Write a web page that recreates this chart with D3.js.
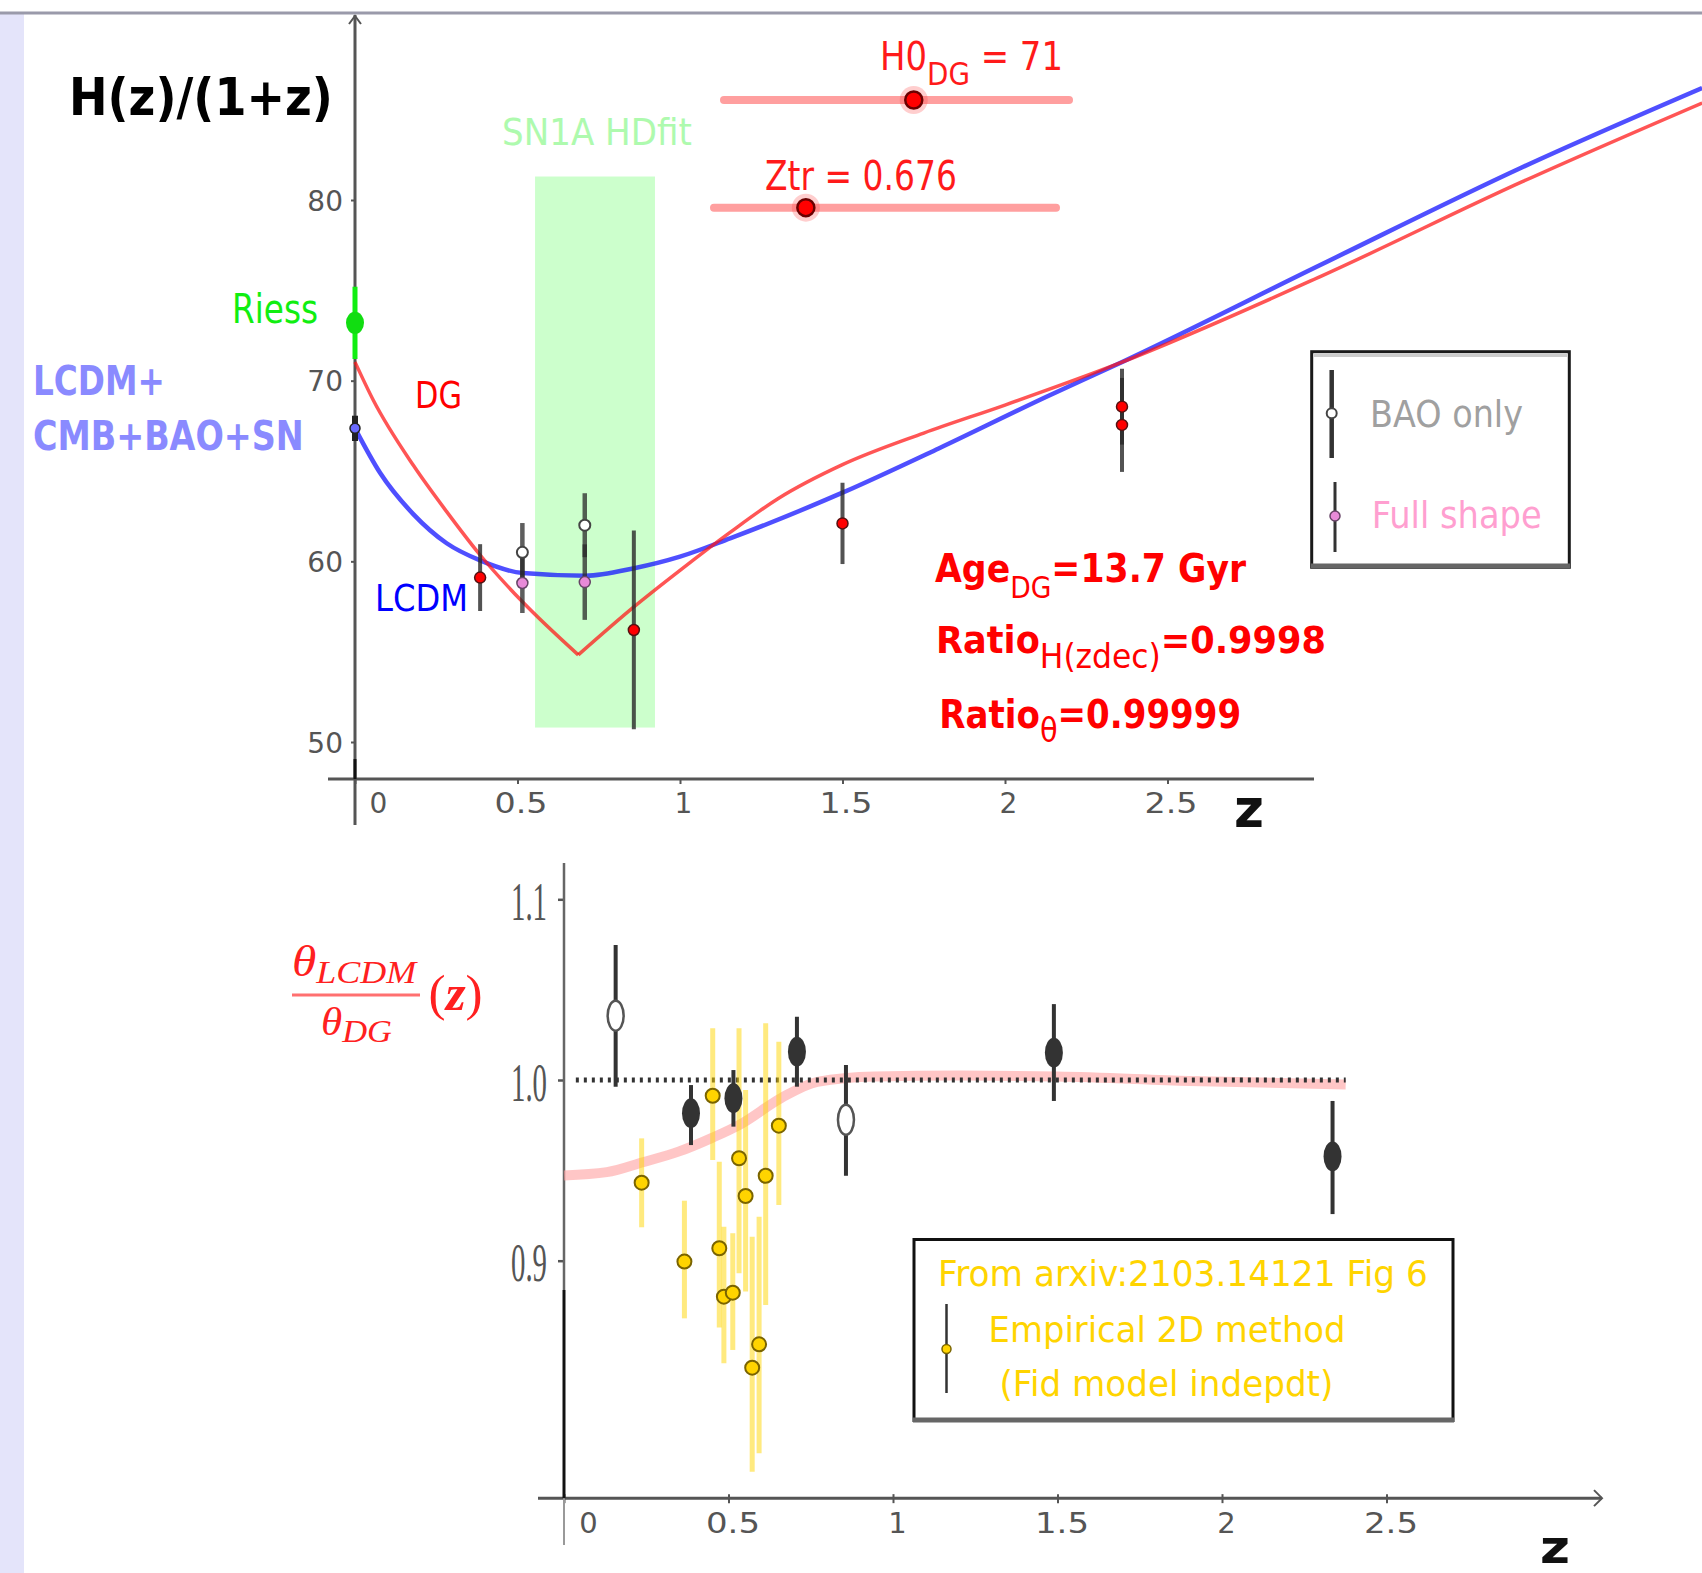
<!DOCTYPE html>
<html><head><meta charset="utf-8">
<script src="https://cdn.jsdelivr.net/npm/d3@7"></script>
<style>html,body{margin:0;padding:0;background:#fff;} svg{display:block;}</style>
</head><body>
<svg id="c" width="1702" height="1573"></svg>
<script>
// ---------------- DATA ----------------
// Top panel: H(z)/(1+z) model curves
const lcdmZ = [0, 0.077, 0.18, 0.282, 0.385, 0.516, 0.71, 0.859, 1.0, 1.154, 1.5, 1.796, 2.126, 2.354, 2.97, 3.59, 4.145];
const lcdmH = [67.36, 64.9, 62.6, 61.0, 60.05, 59.35, 59.2, 59.62, 60.26, 61.27, 63.8, 66.25, 69.1, 70.98, 76.4, 81.8, 86.2];
const dgZLeft = [0, 0.056, 0.18, 0.282, 0.385, 0.513, 0.687];
const dgHLeft = [71.03, 68.93, 65.3, 62.75, 60.35, 57.8, 54.82];
const dgZRight = [0.687, 0.859, 1.0, 1.154, 1.3, 1.5, 1.75, 2.0, 2.354, 2.97, 3.59, 4.145];
const dgHRight = [54.82, 57.49, 59.5, 61.6, 63.45, 65.35, 67.1, 68.65, 70.98, 75.76, 81.0, 85.37];
// Top panel: measurements
const redZ = [0.385, 0.858, 1.5, 2.36, 2.36];
const redH = [59.1, 56.2, 62.1, 68.56, 67.55];
const redErr = [1.85, 5.5, 2.25, 2.1, 2.6];
const baoOnlyZ = [0.515, 0.707];
const baoOnlyH = [60.5, 62.0];
const baoOnlyErr = [1.62, 1.77];
const fullShapeZ = [0.515, 0.707];
const fullShapeH = [58.8, 58.85];
const fullShapeErr = [1.66, 2.09];
const lcdmH0 = [67.36], lcdmH0Err = [0.7];
const riessH0 = [73.2], riessErr = [2.0];
const snBandZ = [0.554, 0.923];
const snBandH = [50.8, 81.3];
const topXTicks = [0, 0.5, 1, 1.5, 2, 2.5];
const topXLabels = ["0", "0.5", "1", "1.5", "2", "2.5"];
const topYTicks = [50, 60, 70, 80];
const topYLabels = ["50", "60", "70", "80"];
// sliders
const h0Slider = [60, 80], h0Value = 71;
const ztrSlider = [0.3, 1.7], ztrValue = 0.676;

// Bottom panel: theta ratio
const ratioZ = [0, 0.13, 0.24, 0.35, 0.45, 0.536, 0.66, 0.77, 0.945, 1.2, 1.5, 1.9, 2.376];
const ratioV = [0.9472, 0.9490, 0.9545, 0.9605, 0.9680, 0.9755, 0.9900, 0.9990, 1.0020, 1.0025, 1.0020, 0.9995, 0.9975];
const unityZ = [0.036, 2.376];
const unityV = [1.0, 1.0];
const baoOpenZ = [0.157, 0.857];
const baoOpenV = [1.0356, 0.978];
const baoOpenLo = [0.9963, 0.947];
const baoOpenHi = [1.0747, 1.0083];
const baoFillZ = [0.386, 0.515, 0.708, 1.489, 2.336];
const baoFillV = [0.9816, 0.9899, 1.0157, 1.0151, 0.9577];
const baoFillLo = [0.964, 0.9742, 0.9963, 0.9884, 0.9258];
const baoFillHi = [0.9972, 1.0055, 1.035, 1.042, 0.9884];
const empZ = [0.236, 0.366, 0.452, 0.472, 0.486, 0.513, 0.532, 0.552, 0.593, 0.572, 0.613, 0.653];
const empV = [0.9432, 0.8995, 0.9913, 0.9069, 0.8801, 0.8823, 0.9567, 0.9358, 0.8537, 0.8408, 0.9470, 0.9747];
const empLo = [0.9185, 0.8681, 0.9557, 0.8630, 0.8432, 0.8506, 0.8930, 0.8829, 0.7934, 0.7832, 0.8755, 0.9308];
const empHi = [0.9677, 0.9332, 1.0286, 0.9548, 0.9188, 0.9152, 1.0286, 0.9945, 0.9243, 0.9133, 1.0314, 1.0212];
const botXTicks = [0, 0.5, 1, 1.5, 2, 2.5];
const botXLabels = ["0", "0.5", "1", "1.5", "2", "2.5"];
const botYTicks = [0.9, 1.0, 1.1];
const botYLabels = ["0.9", "1.0", "1.1"];

// ---------------- SETUP ----------------
const svg = d3.select('#c');
const SANS = 'DejaVu Sans';
const SERIF = 'Liberation Serif';

function fitText(parent, o) {
  const g = parent.append('g');
  const t = g.append('text')
    .attr('font-family', o.family || SANS)
    .attr('font-size', o.size)
    .attr('font-weight', o.weight || 'normal')
    .attr('font-style', o.style || 'normal')
    .attr('fill', o.fill);
  let shift = 0;
  (o.parts || [{t: o.text}]).forEach(p => {
    const ts = t.append('tspan').text(p.t);
    const target = p.sub ? o.subDy : 0;
    if (target !== shift) { ts.attr('dy', target - shift); shift = target; }
    if (p.size) ts.attr('font-size', p.size);
    if (p.weight) ts.attr('font-weight', p.weight);
    if (p.style) ts.attr('font-style', p.style);
  });
  const bb = t.node().getBBox();
  const sx = o.w ? o.w / bb.width : 1;
  let x0 = o.x - bb.x * sx;
  if (o.anchor === 'end') x0 = o.x - (bb.x + bb.width) * sx;
  if (o.anchor === 'middle') x0 = o.x - (bb.x + bb.width / 2) * sx;
  g.attr('transform', `translate(${x0},${o.y}) scale(${sx},1)`);
  return g;
}
function vbar(g, x, y1, y2, color, w) {
  g.append('line').attr('x1', x).attr('x2', x).attr('y1', y1).attr('y2', y2).attr('stroke', color).attr('stroke-width', w);
}

// background frame
svg.append('rect').attr('x', 0).attr('y', 0).attr('width', 1702).attr('height', 1573).attr('fill', '#fff');
svg.append('rect').attr('x', 0).attr('y', 14).attr('width', 24).attr('height', 1559).attr('fill', '#e4e4fa');
svg.append('line').attr('x1', 0).attr('x2', 1702).attr('y1', 13).attr('y2', 13).attr('stroke', '#9a9aaa').attr('stroke-width', 3);

// ---------------- TOP PANEL ----------------
const topX = d3.scaleLinear().domain([0, 2.5]).range([355, 1167.5]);
const topY = d3.scaleLinear().domain([50, 80]).range([742, 200]);
const gTop = svg.append('g');

// SN band
gTop.append('rect')
  .attr('x', topX(snBandZ[0])).attr('width', topX(snBandZ[1]) - topX(snBandZ[0]))
  .attr('y', topY(snBandH[1])).attr('height', topY(snBandH[0]) - topY(snBandH[1]))
  .attr('fill', '#ccffcc');

// axes
const xAxisY = topY(47.95);
const yAxisTop = d3.axisLeft(topY).tickValues(topYTicks).tickSize(4).tickFormat((d, i) => topYLabels[i]);
const gyT = gTop.append('g').attr('transform', `translate(${topX(0)},0)`).call(yAxisTop);
gyT.select('.domain').remove();
gyT.selectAll('line').attr('stroke', '#555').attr('stroke-width', 2);
gyT.selectAll('text').attr('font-family', SANS).attr('font-size', 28).attr('fill', '#555')
  .attr('x', -12).attr('dy', '0.36em');

const xAxisTop = d3.axisBottom(topX).tickValues(topXTicks).tickSize(5).tickFormat((d, i) => topXLabels[i]);
const gxT = gTop.append('g').attr('transform', `translate(0,${xAxisY})`).call(xAxisTop);
gxT.select('.domain').remove();
gxT.selectAll('line').attr('stroke', '#555').attr('stroke-width', 2);
gxT.selectAll('text').attr('font-family', SANS).attr('font-size', 28).attr('fill', '#555')
  .attr('y', 34).attr('dy', null)
  .attr('x', (d) => d === 0 ? 23 : 3)
  .each(function(d, i) { if (topXLabels[i].length > 1) d3.select(this).attr('textLength', 53).attr('lengthAdjust', 'spacingAndGlyphs'); });

gTop.append('line').attr('x1', 328).attr('x2', 1314).attr('y1', xAxisY).attr('y2', xAxisY).attr('stroke', '#555').attr('stroke-width', 3);
gTop.append('line').attr('x1', topX(0)).attr('x2', topX(0)).attr('y1', 15).attr('y2', 825).attr('stroke', '#555').attr('stroke-width', 3);
gTop.append('line').attr('x1', topX(0)).attr('x2', topX(0)).attr('y1', xAxisY - 20).attr('y2', xAxisY).attr('stroke', '#111').attr('stroke-width', 3);
gTop.append('path').attr('d', `M${topX(0)-6},24 L${topX(0)},16 L${topX(0)+6},24`).attr('fill', 'none').attr('stroke', '#555').attr('stroke-width', 2);

// curves
const lineTop = d3.line().x(d => topX(d[0])).y(d => topY(d[1])).curve(d3.curveMonotoneX);
gTop.append('path').datum(lcdmZ.map((z, i) => [z, lcdmH[i]]))
  .attr('d', lineTop).attr('fill', 'none').attr('stroke', 'rgba(20,20,255,0.75)').attr('stroke-width', 4.5);
gTop.append('path').datum(dgZLeft.map((z, i) => [z, dgHLeft[i]]))
  .attr('d', lineTop).attr('fill', 'none').attr('stroke', 'rgba(255,20,20,0.72)').attr('stroke-width', 3.5);
gTop.append('path').datum(dgZRight.map((z, i) => [z, dgHRight[i]]))
  .attr('d', lineTop).attr('fill', 'none').attr('stroke', 'rgba(255,20,20,0.72)').attr('stroke-width', 3.5);

// error bars
baoOnlyZ.forEach((z, i) => vbar(gTop, topX(z), topY(baoOnlyH[i] + baoOnlyErr[i]), topY(baoOnlyH[i] - baoOnlyErr[i]), 'rgba(40,40,40,0.75)', 4.5));
fullShapeZ.forEach((z, i) => vbar(gTop, topX(z), topY(fullShapeH[i] + fullShapeErr[i]), topY(fullShapeH[i] - fullShapeErr[i]), 'rgba(40,40,40,0.75)', 4.5));
redZ.forEach((z, i) => vbar(gTop, topX(z), topY(redH[i] + redErr[i]), topY(redH[i] - redErr[i]), 'rgba(40,40,40,0.8)', 4));
vbar(gTop, topX(0), topY(lcdmH0[0] + lcdmH0Err[0]), topY(lcdmH0[0] - lcdmH0Err[0]), '#222', 6);
// riess
vbar(gTop, topX(0), topY(riessH0[0] + riessErr[0]), topY(riessH0[0] - riessErr[0]), '#11ee11', 5);
gTop.append('ellipse').attr('cx', topX(0)).attr('cy', topY(riessH0[0])).attr('rx', 9).attr('ry', 11).attr('fill', '#11dd11');

// points
baoOnlyZ.forEach((z, i) => gTop.append('circle').attr('cx', topX(z)).attr('cy', topY(baoOnlyH[i])).attr('r', 5.5).attr('fill', '#fff').attr('stroke', '#444').attr('stroke-width', 2));
fullShapeZ.forEach((z, i) => gTop.append('circle').attr('cx', topX(z)).attr('cy', topY(fullShapeH[i])).attr('r', 5.5).attr('fill', '#e88ad8').attr('stroke', '#664466').attr('stroke-width', 1.5));
redZ.forEach((z, i) => gTop.append('circle').attr('cx', topX(z)).attr('cy', topY(redH[i])).attr('r', 5.5).attr('fill', '#ff0000').attr('stroke', '#551111').attr('stroke-width', 1.5));
gTop.append('circle').attr('cx', topX(0)).attr('cy', topY(lcdmH0[0])).attr('r', 5).attr('fill', '#6a6aff').attr('stroke', '#222').attr('stroke-width', 1.5);

// sliders
function slider(range, value, x1, x2, y) {
  const s = d3.scaleLinear().domain(range).range([x1, x2]);
  gTop.append('line').attr('x1', x1).attr('x2', x2).attr('y1', y).attr('y2', y).attr('stroke', '#ff9f9f').attr('stroke-width', 8).attr('stroke-linecap', 'round');
  gTop.append('circle').attr('cx', s(value)).attr('cy', y).attr('r', 14).attr('fill', 'rgba(255,60,60,0.25)');
  gTop.append('circle').attr('cx', s(value)).attr('cy', y).attr('r', 8.5).attr('fill', '#ff0000').attr('stroke', '#6a0000').attr('stroke-width', 2.5);
}
slider(h0Slider, h0Value, 724, 1069, 100);
slider(ztrSlider, ztrValue, 714, 1056, 207.7);

// top legend
gTop.append('rect').attr('x', 1311.7).attr('y', 351.7).attr('width', 257.6).attr('height', 215.6).attr('fill', '#fff').attr('stroke', '#1a1a1a').attr('stroke-width', 3);
gTop.append('line').attr('x1', 1311).attr('x2', 1570).attr('y1', 566).attr('y2', 566).attr('stroke', '#666').attr('stroke-width', 5);
gTop.append('line').attr('x1', 1314).attr('x2', 1567).attr('y1', 355.5).attr('y2', 355.5).attr('stroke', '#ccc').attr('stroke-width', 3);
vbar(gTop, 1331.7, 370, 458, '#333', 4.5);
gTop.append('circle').attr('cx', 1331.7).attr('cy', 413.3).attr('r', 5).attr('fill', '#fff').attr('stroke', '#444').attr('stroke-width', 2);
vbar(gTop, 1335, 482, 552, '#333', 3);
gTop.append('circle').attr('cx', 1335).attr('cy', 516).attr('r', 5).attr('fill', '#e88ad8').attr('stroke', '#664466').attr('stroke-width', 1.5);
fitText(gTop, {x: 1370, y: 426.7, w: 153, size: 37, fill: '#a0a0a0', text: 'BAO only'});
fitText(gTop, {x: 1371.7, y: 528.3, w: 170, size: 38, fill: '#ff9fd0', text: 'Full shape'});

// top texts
fitText(gTop, {x: 69, y: 115, w: 264, size: 51, weight: 'bold', fill: '#000', text: 'H(z)/(1+z)'});
fitText(gTop, {x: 502, y: 145, w: 190, size: 37, fill: '#aefaae', text: 'SN1A HDfit'});
fitText(gTop, {x: 232, y: 322.7, w: 86, size: 40, fill: '#11ee11', text: 'Riess'});
fitText(gTop, {x: 33, y: 395, w: 132, size: 41, weight: 'bold', fill: '#8a8aff', text: 'LCDM+'});
fitText(gTop, {x: 33, y: 450, w: 271, size: 41, weight: 'bold', fill: '#8a8aff', text: 'CMB+BAO+SN'});
fitText(gTop, {x: 415, y: 408, w: 47, size: 38, fill: '#ff0000', text: 'DG'});
fitText(gTop, {x: 375, y: 610.7, w: 93, size: 38, fill: '#0000ff', text: 'LCDM'});
fitText(gTop, {x: 880, y: 70, w: 183, size: 39, fill: '#ff1a1a', subDy: 15,
  parts: [{t: 'H0'}, {t: 'DG', sub: true, size: 32}, {t: ' = 71'}]});
fitText(gTop, {x: 765, y: 190, w: 192, size: 41, fill: '#ff1a1a', text: 'Ztr = 0.676'});
fitText(gTop, {x: 935, y: 581.7, w: 312, size: 39, weight: 'bold', fill: '#ff0000', subDy: 16.5,
  parts: [{t: 'Age'}, {t: 'DG', sub: true, size: 30, weight: 'normal'}, {t: '=13.7 Gyr'}]});
fitText(gTop, {x: 936, y: 653.3, w: 390, size: 37, weight: 'bold', fill: '#ff0000', subDy: 15,
  parts: [{t: 'Ratio'}, {t: 'H(zdec)', sub: true, size: 33, weight: 'normal'}, {t: '=0.9998'}]});
fitText(gTop, {x: 939.3, y: 728.3, w: 302, size: 39, weight: 'bold', fill: '#ff0000', subDy: 14,
  parts: [{t: 'Ratio'}, {t: 'θ', sub: true, size: 33, weight: 'normal'}, {t: '=0.99999'}]});
fitText(gTop, {x: 1234, y: 827, w: 30, size: 53, weight: 'bold', fill: '#111', text: 'z'});

// ---------------- BOTTOM PANEL ----------------
const botX = d3.scaleLinear().domain([0, 2.5]).range([564, 1386.5]);
const botY = d3.scaleLinear().domain([0.9, 1.1]).range([1260.7, 899.3]);
const gBot = svg.append('g');
const bxAxisY = botY(0.7686);

const yAxisBot = d3.axisLeft(botY).tickValues(botYTicks).tickSize(6).tickFormat((d, i) => botYLabels[i]);
const gyB = gBot.append('g').attr('transform', `translate(${botX(0)},0)`).call(yAxisBot);
gyB.select('.domain').remove();
gyB.selectAll('line').attr('stroke', '#555').attr('stroke-width', 2.5);
gyB.selectAll('text').attr('font-family', SERIF).attr('font-size', 54).attr('fill', '#555')
  .attr('x', -17).attr('dy', null).attr('y', 20)
  .attr('textLength', 36).attr('lengthAdjust', 'spacingAndGlyphs');

const xAxisBot = d3.axisBottom(botX).tickValues(botXTicks).tickSizeInner(5).tickSizeOuter(0).tickFormat((d, i) => botXLabels[i]);
const gxB = gBot.append('g').attr('transform', `translate(0,${bxAxisY})`).call(xAxisBot);
gxB.select('.domain').remove();
gxB.selectAll('line').attr('stroke', '#555').attr('stroke-width', 2).attr('y1', -4);
gxB.selectAll('text').attr('font-family', SANS).attr('font-size', 29).attr('fill', '#555')
  .attr('y', 35).attr('dy', null)
  .attr('x', (d) => d === 0 ? 24 : 4)
  .each(function(d, i) { if (botXLabels[i].length > 1) d3.select(this).attr('textLength', 54).attr('lengthAdjust', 'spacingAndGlyphs'); });

gBot.append('line').attr('x1', 538).attr('x2', 1602).attr('y1', bxAxisY).attr('y2', bxAxisY).attr('stroke', '#555').attr('stroke-width', 3);
gBot.append('path').attr('d', `M1594,${bxAxisY-8} L1602,${bxAxisY} L1594,${bxAxisY+8}`).attr('fill', 'none').attr('stroke', '#555').attr('stroke-width', 2);
gBot.append('line').attr('x1', botX(0)).attr('x2', botX(0)).attr('y1', 863).attr('y2', 1290).attr('stroke', '#666').attr('stroke-width', 2.5);
gBot.append('line').attr('x1', botX(0)).attr('x2', botX(0)).attr('y1', 1290).attr('y2', bxAxisY).attr('stroke', '#111').attr('stroke-width', 3);
gBot.append('line').attr('x1', botX(0)).attr('x2', botX(0)).attr('y1', bxAxisY).attr('y2', 1545).attr('stroke', '#999').attr('stroke-width', 2);

// ratio curve & unity line
const lineBot = d3.line().x(d => botX(d[0])).y(d => botY(d[1])).curve(d3.curveMonotoneX);
gBot.append('path').datum(ratioZ.map((z, i) => [z, ratioV[i]]))
  .attr('d', lineBot).attr('fill', 'none').attr('stroke', 'rgba(255,160,160,0.6)').attr('stroke-width', 10);
gBot.append('path').datum(unityZ.map((z, i) => [z, unityV[i]]))
  .attr('d', lineBot).attr('fill', 'none').attr('stroke', '#333').attr('stroke-width', 5).attr('stroke-dasharray', '3,5');

// empirical 2D (yellow)
empZ.forEach((z, i) => vbar(gBot, botX(z), botY(empHi[i]), botY(empLo[i]), 'rgba(255,214,0,0.5)', 5));

// BAO bottom
baoOpenZ.forEach((z, i) => vbar(gBot, botX(z), botY(baoOpenHi[i]), botY(baoOpenLo[i]), '#333', 4));
baoFillZ.forEach((z, i) => vbar(gBot, botX(z), botY(baoFillHi[i]), botY(baoFillLo[i]), '#333', 4));
baoOpenZ.forEach((z, i) => gBot.append('ellipse').attr('cx', botX(z)).attr('cy', botY(baoOpenV[i])).attr('rx', 8).attr('ry', 15).attr('fill', '#fff').attr('stroke', '#555').attr('stroke-width', 2.5));
baoFillZ.forEach((z, i) => gBot.append('ellipse').attr('cx', botX(z)).attr('cy', botY(baoFillV[i])).attr('rx', 9).attr('ry', 15).attr('fill', '#333'));

empZ.forEach((z, i) => gBot.append('circle').attr('cx', botX(z)).attr('cy', botY(empV[i])).attr('r', 7).attr('fill', '#ffd400').attr('stroke', '#7a6400').attr('stroke-width', 2));

// bottom legend
gBot.append('rect').attr('x', 914).attr('y', 1239.5).attr('width', 539).attr('height', 181).attr('fill', '#fff').attr('stroke', '#111').attr('stroke-width', 3);
gBot.append('line').attr('x1', 913).attr('x2', 1454).attr('y1', 1420).attr('y2', 1420).attr('stroke', '#666').attr('stroke-width', 5);
vbar(gBot, 946.5, 1304, 1393, '#333', 2.5);
gBot.append('circle').attr('cx', 946.5).attr('cy', 1349).attr('r', 4.5).attr('fill', '#ffd400').attr('stroke', '#7a6400').attr('stroke-width', 1.5);
fitText(gBot, {x: 938, y: 1285.5, w: 490, size: 35, fill: '#ffd400', text: 'From arxiv:2103.14121 Fig 6'});
fitText(gBot, {x: 988.6, y: 1342, w: 357, size: 36, fill: '#ffd400', text: 'Empirical 2D method'});
fitText(gBot, {x: 999.5, y: 1396, w: 334, size: 36, fill: '#ffd400', text: '(Fid model indepdt)'});

// ratio label
fitText(gBot, {x: 292, y: 976, w: 127, size: 44, style: 'italic', family: SERIF, fill: '#ff2020', subDy: 7,
  parts: [{t: 'θ'}, {t: 'LCDM', sub: true, size: 32}]});
gBot.append('line').attr('x1', 292).attr('x2', 420).attr('y1', 995).attr('y2', 995).attr('stroke', '#ff7070').attr('stroke-width', 3);
fitText(gBot, {x: 321, y: 1035, w: 71, size: 40, style: 'italic', family: SERIF, fill: '#ff2020', subDy: 7,
  parts: [{t: 'θ'}, {t: 'DG', sub: true, size: 32}]});
fitText(gBot, {x: 428.6, y: 1010, w: 54, size: 50, family: SERIF, fill: '#ff2020',
  parts: [{t: '('}, {t: 'z', style: 'italic', weight: 'bold'}, {t: ')'}]});
fitText(gBot, {x: 1540, y: 1563, w: 30, size: 46, weight: 'bold', fill: '#111', text: 'z'});
</script>
</body></html>
